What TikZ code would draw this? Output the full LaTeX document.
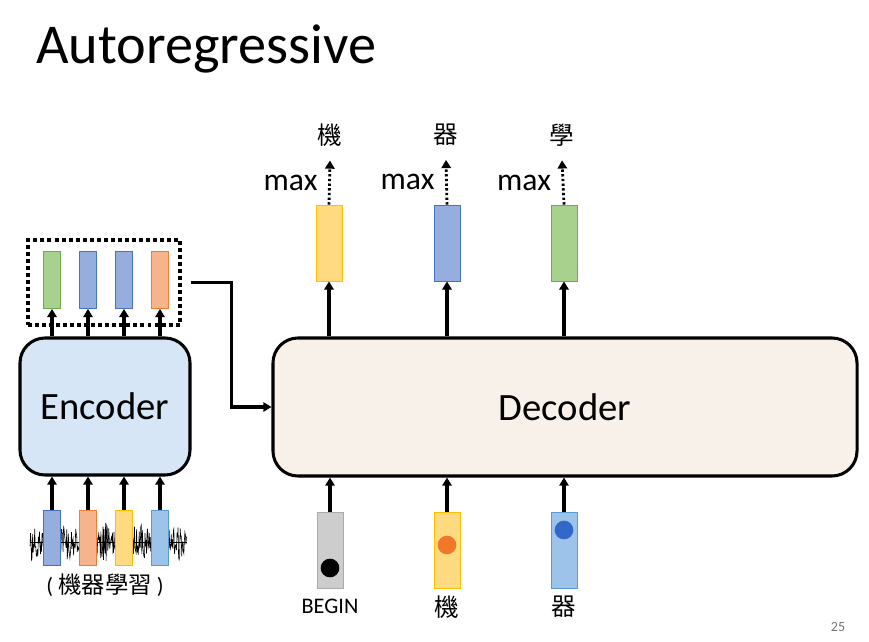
\documentclass[tikz,border=0pt]{standalone}
\usepackage{fontspec}
\setmainfont{Carlito}
\newfontfamily\cjk{Noto Sans CJK TC}
\usetikzlibrary{positioning,arrows.meta}
\definecolor{encfill}{RGB}{214,230,246}
\definecolor{decfill}{RGB}{248,241,234}
\definecolor{gfill}{RGB}{169,209,142}  \definecolor{gline}{RGB}{112,173,71}
\definecolor{bfill}{RGB}{150,174,222}  \definecolor{bline}{RGB}{68,114,196}
\definecolor{ofill}{RGB}{246,180,140}  \definecolor{oline}{RGB}{237,125,49}
\definecolor{yfill}{RGB}{255,218,128}  \definecolor{yline}{RGB}{255,192,0}
\definecolor{lfill}{RGB}{157,195,235}  \definecolor{lline}{RGB}{91,155,213}
\definecolor{kfill}{RGB}{205,205,205}  \definecolor{kline}{RGB}{170,170,170}
\definecolor{dorange}{RGB}{240,120,40}
\definecolor{dblue}{RGB}{50,105,200}

\begin{document}
\begin{tikzpicture}[x=0.03cm, y=-0.03cm,
  blk/.style  = {draw, line width=2.6pt, rounded corners=0.75cm,
                 font=\fontsize{33}{36}\selectfont},
  cell/.style = {draw, line width=0.7pt, inner sep=0pt,
                 minimum width=0.51cm, minimum height=1.71cm},
  tok/.style  = {cell, minimum width=0.78cm, minimum height=2.28cm},
  cg/.style   = {fill=gfill, draw=gline},
  cb/.style   = {fill=bfill, draw=bline},
  co/.style   = {fill=ofill, draw=oline},
  cy/.style   = {fill=yfill, draw=yline},
  cl/.style   = {fill=lfill, draw=lline},
  ck/.style   = {fill=kfill, draw=kline},
  dot/.style  = {circle, inner sep=0pt, minimum size=0.56cm},
  ar/.style   = {line width=2.6pt, -{Triangle[length=7pt, width=8pt]}},
  dar/.style  = {ar, line width=2.4pt, dash pattern=on 2pt off 2pt},
  zh/.style   = {font=\cjk\fontsize{21}{24}\selectfont},
  mx/.style   = {font=\fontsize{27}{30}\selectfont}]

\useasboundingbox (0,0) rectangle (869,641);

% --- title ------------------------------------------------------------
\node[anchor=base west, inner sep=0pt, font=\fontsize{48}{52}\selectfont]
     (title) at (36,63) {Autoregressive};

% --- encoder ----------------------------------------------------------
\node[blk, fill=encfill, minimum width=5.1cm, minimum height=4.11cm]
     (enc) at (105,406.5) {Encoder};
\node[draw, line width=2.6pt, dash pattern=on 3.4pt off 2.6pt,
      minimum width=4.56cm, minimum height=2.55cm] (ctx) at (104,282.5) {};

\node[cell, cg] (eo1) at (52,280)  {};
\node[cell, cb] (eo2) at (88,280)  {};
\node[cell, cb] (eo3) at (124,280) {};
\node[cell, co] (eo4) at (160,280) {};
\foreach \i in {1,...,4}
  \draw[ar] (enc.north -| eo\i) -- (eo\i.south);

% waveform
\pgfmathsetseed{7}
\draw[line width=0.7pt] (30,542) -- (187,542);
\draw[line width=0.5pt] plot[domain=30:187, samples=300]
     (\x, {542+(1.5+18*abs(sin((\x-50)*5))^1.5)*rand});

\node[cell, cb, minimum height=1.65cm] (ei1) at (52,537.5)  {};
\node[cell, co, minimum height=1.65cm] (ei2) at (88,537.5)  {};
\node[cell, cy, minimum height=1.65cm] (ei3) at (124,537.5) {};
\node[cell, cl, minimum height=1.65cm] (ei4) at (160,537.5) {};
\foreach \i in {1,...,4}
  \draw[ar] (ei\i.north) -- (ei\i.north |- enc.south);

\node[font=\fontsize{19}{22}\selectfont] (src) at (105,585)
     {( {\cjk\fontsize{20}{22}\selectfont 機器學習} )};

% --- decoder ----------------------------------------------------------
\node[blk, fill=decfill, minimum width=17.52cm, minimum height=4.14cm]
     (dec) at (565,407) {Decoder};
\draw[ar] ([xshift=0.27cm]ctx.east) -| ([xshift=-1.2cm]dec.west) -- (dec.west);

% outputs
\node[tok, cy] (do1) at (329,243) {};
\node[tok, cb] (do2) at (447,243) {};
\node[tok, cg] (do3) at (564,243) {};
\node[zh] (w1) at (330,135) {機};
\node[zh] (w2) at (446,135) {器};
\node[zh] (w3) at (562,135) {學};
\foreach \i in {1,2,3} {
  \draw[ar] (do\i.south |- dec.north) -- (do\i.south);
  \draw[dar] (do\i.north) -- ([yshift=-0.3cm]w\i.south)
     node[mx, midway, left=0.2cm] {max};
}

% inputs
\node[tok, ck] (di1) at (330,550) {};
\node[tok, cy] (di2) at (447,550) {};
\node[tok, cl] (di3) at (564,550) {};
\node[dot, fill=black]   (p1) at (330,568) {};
\node[dot, fill=dorange] (p2) at (447,545) {};
\node[dot, fill=dblue]   (p3) at (564,530) {};
\foreach \i in {1,2,3}
  \draw[ar] (di\i.north) -- (di\i.north |- dec.south);

\node[font=\fontsize{19}{22}\selectfont] (t1) at (330,606) {BEGIN};
\node[zh] (t2) at (447,607) {機};
\node[zh] (t3) at (564,607) {器};

% --- page number ------------------------------------------------------
\node[text=black!55, font=\fontsize{12}{14}\selectfont] (pg) at (838,627) {25};
\end{tikzpicture}
\end{document}
